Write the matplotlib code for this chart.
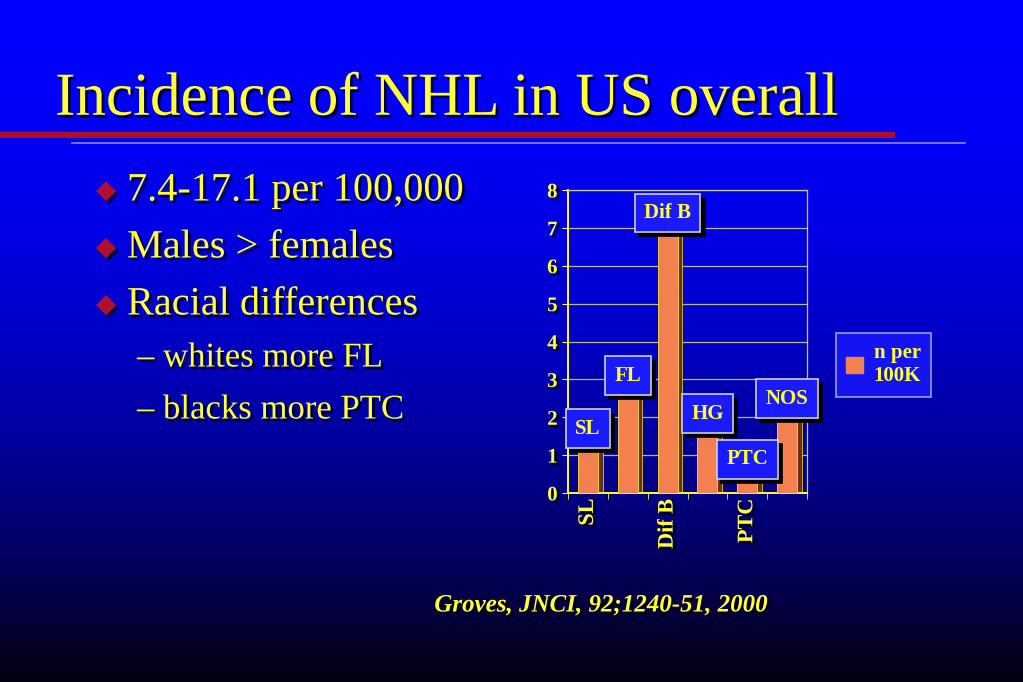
import numpy as np
import matplotlib
matplotlib.use("Agg")
import matplotlib.pyplot as plt
import matplotlib.patheffects as pe
from matplotlib.patches import Patch

# data
categories = ["SL", "FL", "Dif B", "HG", "PTC", "NOS"]
values = [1.1, 2.5, 6.8, 1.5, 0.3, 1.9]
shown_ticks = ["SL", "Dif B", "PTC"]
legend_label = "n per\n100K"

title = "Incidence of NHL in US overall"
bullets = ["7.4-17.1 per 100,000", "Males > females", "Racial differences"]
sub_bullets = ["\u2013 whites more FL", "\u2013 blacks more PTC"]
citation = "Groves, JNCI, 92;1240-51, 2000"

YELLOW = "#ffff33"
BAR = "#f4804f"
BAR_SIDE = "#6b2e10"
BOX_BLUE = "#1a1aff"
SERIF = "Liberation Serif"

W, H = 1023, 682
fig = plt.figure(figsize=(W / 100, H / 100), dpi=100)

# background gradient, blue at top to near black at bottom
bg = fig.add_axes([0, 0, 1, 1])
t = np.linspace(0, 1, 256)[:, None, None] ** 2
top = np.array([0, 0, 255]) / 255
bot = np.array([4, 0, 16]) / 255
grad = top * (1 - t) + bot * t
grad = np.repeat(grad, 4, axis=1)
bg.imshow(grad, aspect="auto", extent=[0, W, H, 0])
bg.set_xlim(0, W)
bg.set_ylim(H, 0)
bg.axis("off")

shadow = [pe.SimplePatchShadow(offset=(2, -2), shadow_rgbFace="black", alpha=0.7), pe.Normal()]

# title and rules
bg.text(55, 100, title, color=YELLOW, fontsize=44, family=SERIF, va="center", ha="left",
        path_effects=shadow)
bg.plot([0, 895], [135, 135], color="#a8102a", lw=4.5, solid_capstyle="butt")
bg.plot([72, 965], [143, 143], color="#8a8ae0", lw=1.2)

# bullet text
for i, b in enumerate(bullets):
    y = 191 + i * 57
    bg.text(106, y, "\u25c6", color="#b01030", fontsize=19, family="DejaVu Sans",
            ha="center", va="center", path_effects=shadow)
    bg.text(127, y, b, color=YELLOW, fontsize=29, family=SERIF, va="center", ha="left",
            path_effects=shadow)
for i, s in enumerate(sub_bullets):
    bg.text(137, 358 + i * 52, s, color=YELLOW, fontsize=25, family=SERIF, va="center",
            ha="left", path_effects=shadow)

bg.text(601, 605, citation, color=YELLOW, fontsize=18, family=SERIF, style="italic",
        weight="bold", ha="center", va="center", path_effects=shadow)

# chart
ax = fig.add_axes([568 / W, 1 - 493 / H, 239 / W, (493 - 190) / H])
ax.set_facecolor("none")
x = np.arange(len(categories))
ax.bar(x + 0.12, values, width=0.5, color=BAR_SIDE, edgecolor="#c8b040", lw=0.7, zorder=2)
ax.bar(x, values, width=0.5, color=BAR, edgecolor="#e8d040", lw=0.7, zorder=3)
ax.set_xlim(-0.5, len(categories) - 0.5)
ax.set_ylim(0, 8)
ax.set_yticks(range(0, 9))
ax.yaxis.grid(True, color="#b8b890", lw=0.9)
ax.set_axisbelow(True)
for sp in ax.spines.values():
    sp.set_color("#c8c890")
    sp.set_linewidth(0.9)
ax.spines["left"].set_color(YELLOW)
ax.spines["bottom"].set_color(YELLOW)
ax.spines["left"].set_linewidth(1.4)
ax.spines["bottom"].set_linewidth(1.4)

ax.set_xticks([categories.index(c) for c in shown_ticks])
ax.set_xticklabels(shown_ticks, rotation=90)
ax.set_xticks(np.arange(len(categories) + 1) - 0.5, minor=True)
ax.tick_params(axis="both", colors=YELLOW, labelsize=15, length=4)
ax.tick_params(axis="x", which="major", length=0, pad=4, labelsize=16)
ax.tick_params(axis="x", which="minor", length=4, color=YELLOW)
for lab in ax.get_xticklabels() + ax.get_yticklabels():
    lab.set_family(SERIF)
    lab.set_weight("bold")
    lab.set_color(YELLOW)
    lab.set_path_effects(shadow)

# label boxes above bars (black shadow box first, then the blue box)
for xi, v, c in zip(x, values, categories):
    for dx, dy, fc, tc, ec in [(3, -3, "black", "black", "black"), (0, 0, BOX_BLUE, YELLOW, "#d0d0d0")]:
        ax.annotate(c, xy=(xi, v), xytext=(dx, dy + 9), textcoords="offset points",
                    ha="center", va="bottom", fontsize=15, family=SERIF, weight="bold",
                    color=tc, annotation_clip=False, zorder=5 if fc != "black" else 4,
                    bbox=dict(boxstyle="square,pad=0.45", fc=fc, ec=ec, lw=1.2))

# legend
leg = fig.legend(handles=[Patch(facecolor=BAR, edgecolor=BAR)], labels=[legend_label],
                 loc="upper left", bbox_to_anchor=(836 / W, 1 - 333 / H), borderaxespad=0,
                 frameon=True, fancybox=False, handlelength=0.8, handleheight=0.8,
                 handletextpad=0.5, borderpad=0.5,
                 prop={"family": SERIF, "weight": "bold", "size": 15})
leg.get_frame().set_facecolor(BOX_BLUE)
leg.get_frame().set_edgecolor("#c0c0c0")
leg.get_frame().set_linewidth(1.2)
for tx in leg.get_texts():
    tx.set_color(YELLOW)

fig.savefig("out.png", dpi=100)
